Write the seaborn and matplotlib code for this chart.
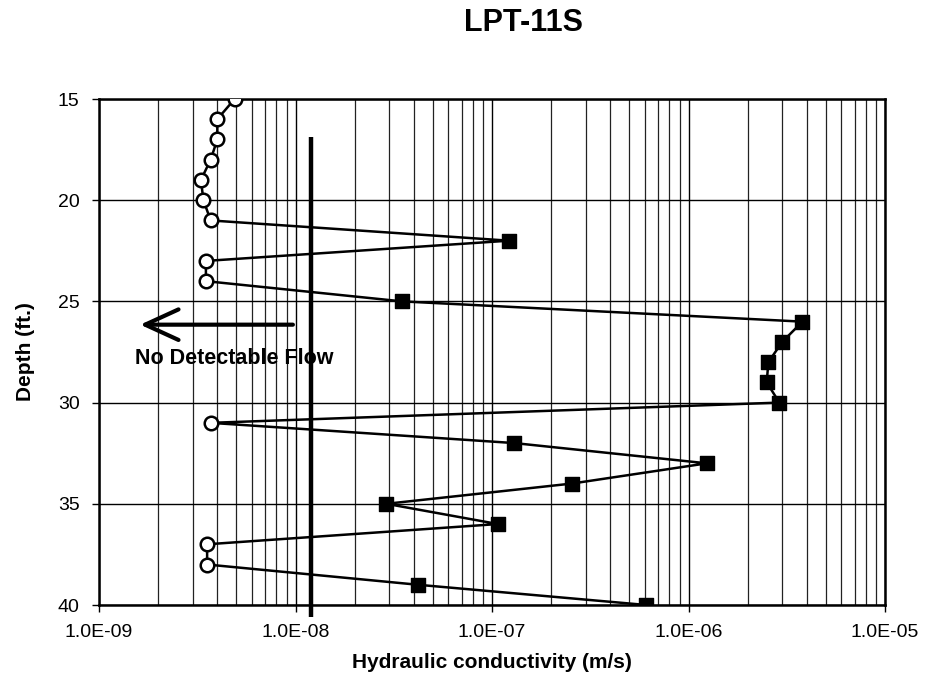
import numpy as np
import pandas as pd
import matplotlib
matplotlib.use("Agg")
import matplotlib.pyplot as plt
import seaborn as sns
from matplotlib.ticker import LogLocator, FixedLocator, FixedFormatter, NullFormatter

# ---------------- data ----------------
depth = [15, 16, 17, 18, 19, 20, 21, 22, 23, 24, 25, 26, 27, 28, 29, 30,
         31, 32, 33, 34, 35, 36, 37, 38, 39, 40]
conductivity = [4.9e-9, 4.0e-9, 4.0e-9, 3.7e-9, 3.3e-9, 3.4e-9, 3.7e-9, 1.22e-7,
                3.5e-9, 3.5e-9, 3.5e-8, 3.8e-6, 3.0e-6, 2.55e-6, 2.5e-6, 2.9e-6,
                3.7e-9, 1.3e-7, 1.24e-6, 2.55e-7, 2.9e-8, 1.07e-7, 3.55e-9, 3.55e-9,
                4.2e-8, 6.1e-7]
no_flow = [True, True, True, True, True, True, True, False,
           True, True, False, False, False, False, False, False,
           True, False, False, False, False, False, True, True,
           False, False]
detection_limit = 1.2e-8
x_ticks = [1e-9, 1e-8, 1e-7, 1e-6, 1e-5]
x_tick_labels = ["1.0E-09", "1.0E-08", "1.0E-07", "1.0E-06", "1.0E-05"]
y_ticks = [15, 20, 25, 30, 35, 40]
title = "LPT-11S"
x_label = "Hydraulic conductivity (m/s)"
y_label = "Depth (ft.)"
note = "No Detectable Flow"

df = pd.DataFrame({"depth": depth, "K": conductivity, "nd": no_flow})

# ---------------- style ----------------
sns.set_theme(style="white")
plt.rcParams["font.family"] = ["Liberation Sans", "DejaVu Sans"]
plt.rcParams["text.color"] = "black"
plt.rcParams["axes.labelcolor"] = "black"
plt.rcParams["xtick.color"] = "black"
plt.rcParams["ytick.color"] = "black"

fig = plt.figure(figsize=(9.29, 6.73), dpi=100)
ax = fig.add_axes([99 / 929, 1 - 605 / 673, (885 - 99) / 929, (605 - 99) / 673])

ax.set_xscale("log")
ax.set_xlim(1e-9, 1e-5)
ax.set_ylim(40, 15)

# grid
ax.xaxis.set_major_locator(FixedLocator(x_ticks))
ax.xaxis.set_major_formatter(FixedFormatter(x_tick_labels))
ax.xaxis.set_minor_locator(LogLocator(base=10, subs=np.arange(2, 10)))
ax.xaxis.set_minor_formatter(NullFormatter())
ax.yaxis.set_major_locator(FixedLocator(y_ticks))
ax.grid(True, which="major", axis="both", color="black", lw=1.0)
ax.grid(True, which="minor", axis="x", color="#222222", lw=0.9)
ax.set_axisbelow(True)

# connecting line
sns.lineplot(data=df, x="K", y="depth", sort=False, estimator=None,
             color="black", lw=1.8, ax=ax, zorder=3)

# detection limit line
ax.plot([detection_limit, detection_limit], [16.9, 40.6], color="black",
        lw=3.2, clip_on=False, zorder=4, solid_capstyle="butt")

# markers
sns.scatterplot(data=df[df["nd"]], x="K", y="depth", marker="o", s=95,
                facecolor="white", edgecolor="black", linewidth=1.8, ax=ax, zorder=5)
sns.scatterplot(data=df[~df["nd"]], x="K", y="depth", marker="s", s=100,
                color="black", edgecolor="black", linewidth=1, ax=ax, zorder=5)

# arrow + note
ax.annotate("", xy=(1.62e-9, 26.15), xytext=(9.7e-9, 26.15),
            arrowprops=dict(arrowstyle="->,head_length=1.2,head_width=0.55",
                            lw=3, color="black", mutation_scale=20,
                            shrinkA=0, shrinkB=0),
            zorder=6)
ax.text(1.52e-9, 27.8, note, fontsize=15.5, fontweight="bold",
        ha="left", va="center", zorder=6, color="black")

# spines / ticks
for sp in ax.spines.values():
    sp.set_color("black")
    sp.set_linewidth(1.8)
ax.tick_params(axis="both", which="major", direction="out", length=5,
               width=1, color="black", labelsize=14, pad=9, labelcolor="black")
ax.tick_params(axis="x", which="minor", direction="out", length=2, width=0.8,
               color="black")
ax.tick_params(bottom=True, left=True)

ax.set_xlabel(x_label, fontsize=15, fontweight="bold", labelpad=8, color="black")
ax.set_ylabel(y_label, fontsize=15, fontweight="bold", labelpad=16, color="black")
fig.text(523 / 929, 1 - 23 / 673, title, fontsize=22, fontweight="bold",
         ha="center", va="center", color="black")

fig.savefig("out.png", dpi=100)
